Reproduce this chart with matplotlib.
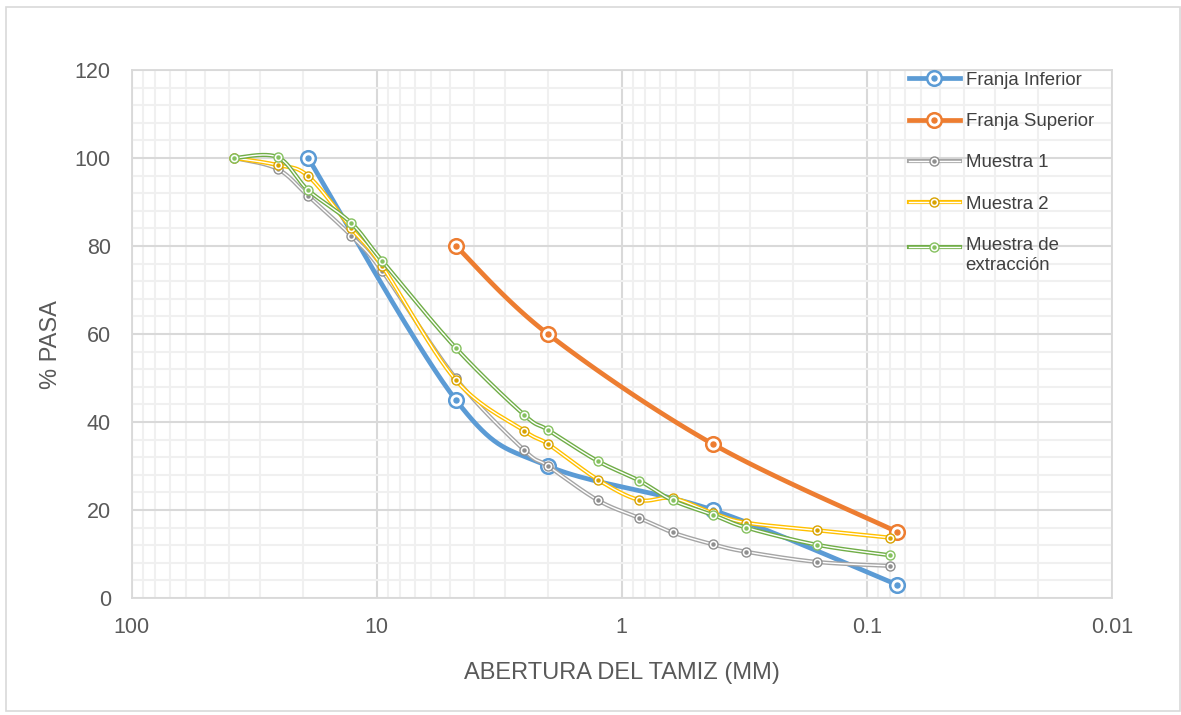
import numpy as np
import matplotlib
matplotlib.use('Agg')
import matplotlib.pyplot as plt
from matplotlib.ticker import FixedLocator, MultipleLocator, LogLocator, FuncFormatter, NullFormatter
from matplotlib.lines import Line2D
from matplotlib.legend_handler import HandlerTuple
from matplotlib.patches import Rectangle

plt.rcParams['font.family'] = ['Liberation Sans', 'DejaVu Sans']

# ---------------- data ----------------
sieve_muestras = [38.1, 25.4, 19.05, 12.7, 9.525, 4.75, 2.5, 2.0, 1.25, 0.85, 0.62, 0.425, 0.31, 0.16, 0.08]
sieve_franja_inf = [19.05, 4.75, 2.0, 0.425, 0.075]
sieve_franja_sup = [4.75, 2.0, 0.425, 0.075]

franja_inferior = [100, 45, 30, 20, 3]
franja_superior = [80, 60, 35, 15]
muestra_1 = [100, 97.5, 91.4, 82.3, 74.4, 49.9, 33.6, 30.0, 22.2, 18.2, 14.9, 12.2, 10.5, 8.2, 7.3]
muestra_2 = [100, 98.4, 95.9, 84.0, 75.5, 49.5, 38.0, 35.0, 26.9, 22.3, 22.7, 19.3, 17.1, 15.4, 13.7]
muestra_ext = [100, 100.2, 92.7, 85.2, 76.7, 56.8, 41.6, 38.2, 31.1, 26.7, 22.2, 18.9, 16.0, 12.1, 9.7]

labels = ['Franja Inferior', 'Franja Superior', 'Muestra 1', 'Muestra 2', 'Muestra de\nextracción']
x_ticks = [100, 10, 1, 0.1, 0.01]
y_ticks = [0, 20, 40, 60, 80, 100, 120]

# ---------------- helpers ----------------
def smooth(x, y, n=40):
    """Catmull-Rom style Bezier smoothing (like Excel smoothed lines) in log-x space."""
    P = np.column_stack([np.log10(np.asarray(x, float)), np.asarray(y, float)])
    out = [P[0]]
    t = np.linspace(0, 1, n)[1:, None]
    for i in range(len(P) - 1):
        p0 = P[i - 1] if i > 0 else P[i]
        p1, p2 = P[i], P[i + 1]
        p3 = P[i + 2] if i + 2 < len(P) else P[i + 1]
        c1 = p1 + (p2 - p0) / 6.0
        c2 = p2 - (p3 - p1) / 6.0
        b = (1 - t) ** 3 * p1 + 3 * (1 - t) ** 2 * t * c1 + 3 * (1 - t) * t ** 2 * c2 + t ** 3 * p2
        out.extend(b)
    out = np.array(out)
    return 10 ** out[:, 0], out[:, 1]


class TopAlignedTuple(HandlerTuple):
    """Overlay handler that lifts the handle to the first line of a two-line label."""
    def __init__(self, lift=0.0, **kw):
        super().__init__(**kw)
        self.lift = lift

    def create_artists(self, legend, orig_handle, xdescent, ydescent, width, height,
                       fontsize, trans):
        return super().create_artists(legend, orig_handle, xdescent, ydescent - self.lift,
                                      width, height, fontsize, trans)


W, H = 1181, 715
fig = plt.figure(figsize=(W / 100, H / 100), dpi=100)
ax = fig.add_axes([131.7 / W, 1 - 598 / H, 980 / W, 528 / H])

blue, orange = '#5B9BD5', '#ED7D31'
gray, yellow, green = '#A5A5A5', '#FFC000', '#70AD47'
gray_m, yellow_m, green_m = '#8F8F8F', '#D9A300', '#86C160'

thick = 3.4
z = 3
handles = []
# Franja series (thick lines, large ring markers)
for xs, ys, c in [(sieve_franja_inf, franja_inferior, blue), (sieve_franja_sup, franja_superior, orange)]:
    sx, sy = smooth(xs, ys)
    ax.plot(sx, sy, color=c, lw=thick, solid_capstyle='round', zorder=z)
    ax.plot(xs, ys, ls='', marker='o', ms=10.5, mfc='white', mec=c, mew=1.8, zorder=z + 0.1)
    ax.plot(xs, ys, ls='', marker='o', ms=3.6, color=c, zorder=z + 0.2)
    z += 1
    handles.append((Line2D([], [], color=c, lw=thick),
                    Line2D([], [], ls='', marker='o', ms=10.5, mfc='white', mec=c, mew=1.8),
                    Line2D([], [], ls='', marker='o', ms=3.6, color=c)))

# Muestra series (double lines, small ring markers)
for ys, c, cm in [(muestra_1, gray, gray_m), (muestra_2, yellow, yellow_m), (muestra_ext, green, green_m)]:
    sx, sy = smooth(sieve_muestras, ys)
    ax.plot(sx, sy, color=c, lw=3.0, zorder=z)
    ax.plot(sx, sy, color='white', lw=1.0, zorder=z + 0.05)
    ax.plot(sieve_muestras, ys, ls='', marker='o', ms=6.5, mfc='white', mec=cm, mew=1.0, zorder=z + 0.1)
    ax.plot(sieve_muestras, ys, ls='', marker='o', ms=2.2, color=cm, zorder=z + 0.2)
    z += 1
    handles.append((Line2D([], [], color=c, lw=3.0),
                    Line2D([], [], color='white', lw=1.0),
                    Line2D([], [], ls='', marker='o', ms=6.5, mfc='white', mec=cm, mew=1.0),
                    Line2D([], [], ls='', marker='o', ms=2.2, color=cm)))

# ---------------- axes ----------------
ax.set_xscale('log')
ax.set_xlim(100, 0.01)
ax.set_ylim(0, 120)
ax.xaxis.set_major_locator(FixedLocator(x_ticks))
ax.xaxis.set_major_formatter(FuncFormatter(lambda v, p: '{:g}'.format(v)))
ax.xaxis.set_minor_locator(LogLocator(base=10, subs=np.arange(2, 10), numticks=20))
ax.xaxis.set_minor_formatter(NullFormatter())
ax.yaxis.set_major_locator(FixedLocator(y_ticks))
ax.yaxis.set_minor_locator(MultipleLocator(4))

ax.grid(which='major', color='#D9D9D9', lw=1.5, zorder=0)
ax.grid(which='minor', color='#F0F0F0', lw=1.5, zorder=0)
ax.set_axisbelow(True)
for s in ax.spines.values():
    s.set_color('#D9D9D9')
    s.set_linewidth(1.3)

ax.tick_params(which='both', length=0)
ax.tick_params(axis='x', pad=14, labelsize=15.5, labelcolor='#595959')
ax.tick_params(axis='y', pad=15, labelsize=15.5, labelcolor='#595959')

ax.set_xlabel('ABERTURA DEL TAMIZ (MM)', fontsize=17, color='#595959')
ax.set_ylabel('% PASA', fontsize=17, color='#595959')
ax.xaxis.set_label_coords(0.5, -0.122)
ax.yaxis.set_label_coords(-0.071, 0.48)

hmap = {h: HandlerTuple(ndivide=1, pad=0) for h in handles[:-1]}
hmap[handles[-1]] = TopAlignedTuple(lift=12.2, ndivide=1, pad=0)
leg = ax.legend(handles, labels, handler_map=hmap,
                loc='upper left', bbox_to_anchor=(0.793, 0.997), frameon=False,
                fontsize=13.4, labelcolor='#404040', handlelength=2.75, handletextpad=0.3,
                labelspacing=1.31, borderpad=0, borderaxespad=0, numpoints=1)

fig.patches.append(Rectangle((5.5 / W, 4 / H), (1180 - 5.5) / W, (708 - 4) / H,
                             transform=fig.transFigure, fill=False, ec='#D9D9D9', lw=1.2))

fig.savefig('out.png', dpi=100, facecolor='white')
